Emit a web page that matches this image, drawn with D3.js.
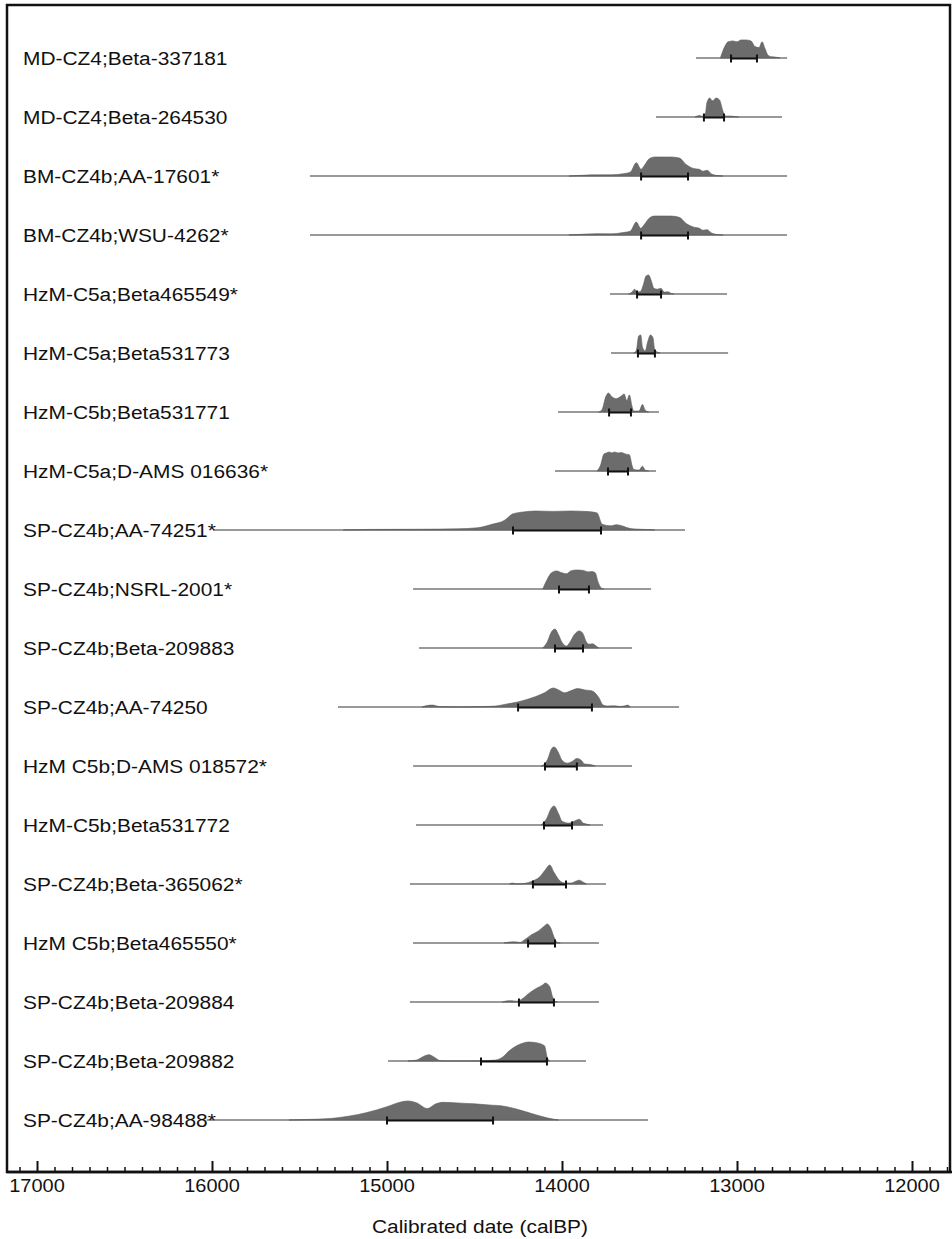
<!DOCTYPE html>
<html>
<head>
<meta charset="utf-8">
<script src="https://cdn.jsdelivr.net/npm/d3@7"></script>
<style>
  body { margin: 0; background: #fff; }
  text { font-family: "Liberation Sans", Arial, sans-serif; fill: #111; }
</style>
</head>
<body>
<svg id="chart" width="952" height="1239"></svg>
<script>
'use strict';

// sample names, top to bottom
var labels = [
  'MD-CZ4;Beta-337181', 'MD-CZ4;Beta-264530', 'BM-CZ4b;AA-17601*', 'BM-CZ4b;WSU-4262*',
  'HzM-C5a;Beta465549*', 'HzM-C5a;Beta531773', 'HzM-C5b;Beta531771', 'HzM-C5a;D-AMS 016636*',
  'SP-CZ4b;AA-74251*', 'SP-CZ4b;NSRL-2001*', 'SP-CZ4b;Beta-209883', 'SP-CZ4b;AA-74250',
  'HzM C5b;D-AMS 018572*', 'HzM-C5b;Beta531772', 'SP-CZ4b;Beta-365062*', 'HzM C5b;Beta465550*',
  'SP-CZ4b;Beta-209884', 'SP-CZ4b;Beta-209882', 'SP-CZ4b;AA-98488*'
];

// extent of the thin line under each distribution (calBP)
var rangeStart = [13234, 13463, 15440, 15440, 13726, 13720, 14023, 14040, 15994, 14851,
  14817, 15280, 14851, 14834, 14869, 14851, 14869, 14994, 16030];
var rangeEnd = [12714, 12743, 12714, 12714, 13057, 13051, 13446, 13463, 13297, 13491,
  13600, 13331, 13600, 13766, 13749, 13789, 13789, 13863, 13509];

// bracketed range (calBP)
var bracketStart = [13034, 13189, 13548, 13548, 13571, 13566, 13731, 13737, 14280, 14017,
  14040, 14251, 14097, 14103, 14166, 14194, 14246, 14463, 15000];
var bracketEnd = [12886, 13074, 13280, 13280, 13434, 13469, 13606, 13623, 13777, 13846,
  13880, 13829, 13915, 13943, 13977, 14040, 14046, 14086, 14394];

// probability curves: [calBP, relative height]
var densities = [
  [[13095, 0], [13070, 0.6], [13051, 0.85], [13023, 0.9], [13000, 0.85], [12977, 0.95], [12949, 0.95],
   [12920, 0.9], [12897, 0.6], [12874, 0.55], [12857, 0.85], [12840, 0.5], [12823, 0.15], [12800, 0.06],
   [12783, 0.05], [12754, 0]],
  [[13240, 0], [13215, 0.08], [13195, 0.03], [13180, 0.2], [13172, 0.75], [13156, 1], [13140, 0.85],
   [13120, 1], [13100, 0.9], [13080, 0.3], [13070, 0.05], [13040, 0.05], [13010, 0.02], [12990, 0]],
  [[13960, 0], [13880, 0.04], [13800, 0.06], [13720, 0.06], [13650, 0.12], [13610, 0.2], [13575, 0.7],
   [13548, 0.35], [13530, 0.55], [13500, 0.92], [13470, 1], [13380, 1], [13330, 0.95], [13290, 0.6],
   [13250, 0.4], [13215, 0.35], [13195, 0.25], [13170, 0.3], [13145, 0.1], [13110, 0.02], [13080, 0]],
  [[13960, 0], [13880, 0.04], [13800, 0.07], [13720, 0.06], [13650, 0.13], [13610, 0.2], [13575, 0.68],
   [13550, 0.35], [13530, 0.55], [13500, 0.9], [13470, 1], [13380, 1], [13330, 0.93], [13290, 0.6],
   [13250, 0.42], [13215, 0.35], [13195, 0.25], [13170, 0.28], [13145, 0.1], [13110, 0.02], [13080, 0]],
  [[13620, 0], [13600, 0.1], [13585, 0.25], [13570, 0.1], [13550, 0.15], [13535, 0.5], [13520, 0.95],
   [13505, 1], [13490, 0.7], [13475, 0.3], [13455, 0.25], [13435, 0.3], [13415, 0.1], [13395, 0.12],
   [13375, 0.03], [13360, 0]],
  [[13590, 0], [13575, 0.15], [13562, 0.9], [13550, 0.95], [13540, 0.3], [13525, 0.1], [13510, 0.6],
   [13495, 0.95], [13480, 0.8], [13470, 0.15], [13455, 0.05], [13440, 0]],
  [[13790, 0], [13770, 0.15], [13750, 0.8], [13735, 1], [13715, 0.8], [13690, 0.7], [13660, 0.85],
   [13645, 0.95], [13630, 0.6], [13615, 0.9], [13600, 0.3], [13590, 0.05], [13560, 0.05], [13540, 0.4],
   [13525, 0.1], [13505, 0]],
  [[13800, 0], [13780, 0.3], [13760, 0.9], [13745, 0.95], [13730, 1], [13715, 0.95], [13700, 1],
   [13680, 0.95], [13660, 0.97], [13640, 0.9], [13615, 0.85], [13600, 0.3], [13590, 0.08], [13560, 0.05],
   [13540, 0.25], [13525, 0.05], [13505, 0]],
  [[15250, 0], [15100, 0.03], [14800, 0.04], [14600, 0.06], [14480, 0.12], [14400, 0.3], [14330, 0.5],
   [14280, 0.85], [14220, 0.95], [14150, 1], [14050, 0.98], [13950, 1], [13850, 0.97], [13800, 0.9],
   [13770, 0.3], [13720, 0.22], [13690, 0.28], [13650, 0.2], [13620, 0.1], [13580, 0.05], [13500, 0.02],
   [13470, 0]],
  [[14110, 0], [14085, 0.5], [14060, 0.85], [14030, 0.95], [14000, 0.85], [13975, 0.8], [13950, 0.95],
   [13920, 1], [13880, 0.98], [13850, 0.9], [13830, 0.92], [13810, 0.85], [13795, 0.4], [13775, 0.05],
   [13760, 0]],
  [[14110, 0], [14085, 0.3], [14060, 0.85], [14040, 1], [14020, 0.7], [14000, 0.3], [13975, 0.1],
   [13955, 0.3], [13930, 0.7], [13900, 0.9], [13880, 0.75], [13860, 0.3], [13845, 0.2], [13825, 0.22],
   [13805, 0.1], [13790, 0]],
  [[14800, 0], [14770, 0.08], [14740, 0.1], [14700, 0.02], [14600, 0], [14460, 0.02], [14380, 0.05],
   [14320, 0.15], [14260, 0.25], [14200, 0.4], [14150, 0.55], [14100, 0.75], [14050, 1], [14020, 0.9],
   [13985, 0.75], [13950, 0.85], [13910, 0.97], [13870, 0.9], [13830, 0.85], [13790, 0.5], [13765, 0.1],
   [13740, 0.05], [13700, 0.06], [13670, 0.03], [13640, 0.06], [13625, 0.1], [13610, 0]],
  [[14120, 0], [14100, 0.1], [14080, 0.4], [14060, 0.9], [14045, 1], [14020, 0.7], [14000, 0.3],
   [13970, 0.15], [13940, 0.25], [13915, 0.4], [13890, 0.3], [13870, 0.1], [13840, 0.08], [13810, 0]],
  [[14120, 0], [14090, 0.3], [14060, 0.9], [14045, 1], [14020, 0.6], [14000, 0.2], [13960, 0.1],
   [13930, 0.2], [13900, 0.3], [13880, 0.1], [13860, 0.05], [13840, 0]],
  [[14300, 0], [14285, 0.05], [14260, 0], [14215, 0.03], [14170, 0.15], [14130, 0.35], [14095, 0.75],
   [14070, 1], [14045, 0.6], [14010, 0.15], [13980, 0.05], [13950, 0.05], [13920, 0.15], [13900, 0.2],
   [13880, 0.1], [13860, 0]],
  [[14330, 0], [14300, 0.05], [14270, 0.06], [14240, 0.03], [14210, 0.2], [14180, 0.4], [14140, 0.6],
   [14100, 0.9], [14085, 1], [14065, 0.8], [14045, 0.3], [14030, 0.05], [14010, 0]],
  [[14340, 0], [14320, 0.05], [14290, 0.07], [14260, 0.04], [14230, 0.15], [14190, 0.45], [14150, 0.7],
   [14110, 0.9], [14095, 1], [14070, 0.8], [14055, 0.3], [14040, 0.03], [14025, 0]],
  [[14880, 0], [14830, 0.05], [14790, 0.25], [14760, 0.33], [14730, 0.2], [14700, 0.03], [14670, 0],
   [14500, 0], [14380, 0.05], [14340, 0.2], [14300, 0.55], [14260, 0.8], [14220, 0.95], [14190, 1],
   [14140, 0.95], [14100, 0.8], [14085, 0.2], [14070, 0]],
  [[15560, 0], [15450, 0.03], [15320, 0.08], [15220, 0.2], [15120, 0.38], [15000, 0.7], [14920, 0.95],
   [14880, 1], [14830, 0.9], [14770, 0.6], [14720, 0.85], [14680, 0.93], [14600, 0.9], [14500, 0.85],
   [14400, 0.78], [14350, 0.75], [14250, 0.55], [14170, 0.33], [14080, 0.1], [14020, 0]]
];

var majorTicks = [17000, 16000, 15000, 14000, 13000, 12000];
var axisTitle = 'Calibrated date (calBP)';

var svg = d3.select('#chart');
var peakHeight = 19;
var axisY = 1172;

var x = d3.scaleLinear().domain([17000, 12000]).range([37, 912]);
var y = d3.scalePoint().domain(labels).range([58, 1120]);

// frame
svg.append('rect')
  .attr('x', 7).attr('y', 5)
  .attr('width', 943).attr('height', axisY - 5)
  .attr('fill', 'none').attr('stroke', '#111').attr('stroke-width', 2.5);

var area = d3.area()
  .x(function (d) { return x(d[0]); })
  .curve(d3.curveMonotoneX);

var rows = svg.selectAll('g.row')
  .data(labels)
  .enter()
  .append('g')
  .attr('class', 'row');

rows.append('line')
  .attr('x1', function (d, i) { return x(rangeStart[i]); })
  .attr('x2', function (d, i) { return x(rangeEnd[i]); })
  .attr('y1', function (d) { return y(d); })
  .attr('y2', function (d) { return y(d); })
  .attr('stroke', '#777').attr('stroke-width', 1.6);

rows.append('path')
  .attr('d', function (d, i) {
    var base = y(d);
    return area.y0(base).y1(function (p) { return base - p[1] * peakHeight; })(densities[i]);
  })
  .attr('fill', '#6c6c6c')
  .attr('stroke', '#5a5a5a').attr('stroke-width', 0.6);

// bracket
rows.append('line')
  .attr('x1', function (d, i) { return x(bracketStart[i]); })
  .attr('x2', function (d, i) { return x(bracketEnd[i]); })
  .attr('y1', function (d) { return y(d) + 0.5; })
  .attr('y2', function (d) { return y(d) + 0.5; })
  .attr('stroke', '#111').attr('stroke-width', 2);

[bracketStart, bracketEnd].forEach(function (ends) {
  rows.append('line')
    .attr('x1', function (d, i) { return x(ends[i]); })
    .attr('x2', function (d, i) { return x(ends[i]); })
    .attr('y1', function (d) { return y(d) - 3.5; })
    .attr('y2', function (d) { return y(d) + 4.5; })
    .attr('stroke', '#111').attr('stroke-width', 2);
});

rows.append('text')
  .attr('transform', function (d) { return 'translate(23,' + (y(d) + 7) + ') scale(1.1,1)'; })
  .attr('font-size', 19)
  .text(function (d) { return d; });

// axis
var axis = d3.axisBottom(x)
  .tickValues(d3.range(17100, 11700, -100))
  .tickSize(-5)
  .tickFormat('');

var gAxis = svg.append('g').attr('transform', 'translate(0,' + axisY + ')');
gAxis.call(axis);
gAxis.select('.domain').remove();
gAxis.selectAll('.tick line').attr('stroke', '#111').attr('stroke-width', 1.5);
gAxis.selectAll('.tick').filter(function (d) { return majorTicks.indexOf(d) >= 0; })
  .select('line').attr('y2', -11).attr('stroke-width', 2);

svg.append('line')
  .attr('x1', 7).attr('x2', 952)
  .attr('y1', axisY).attr('y2', axisY)
  .attr('stroke', '#111').attr('stroke-width', 2.5);

svg.selectAll('text.tickLabel')
  .data(majorTicks)
  .enter()
  .append('text')
  .attr('class', 'tickLabel')
  .attr('text-anchor', 'middle')
  .attr('font-size', 19)
  .attr('transform', function (d) { return 'translate(' + x(d) + ',' + (axisY + 20) + ') scale(1.05,1)'; })
  .text(function (d) { return d; });

svg.append('text')
  .attr('text-anchor', 'middle')
  .attr('font-size', 19)
  .attr('transform', 'translate(480,1233) scale(1.1,1)')
  .text(axisTitle);
</script>
</body>
</html>
